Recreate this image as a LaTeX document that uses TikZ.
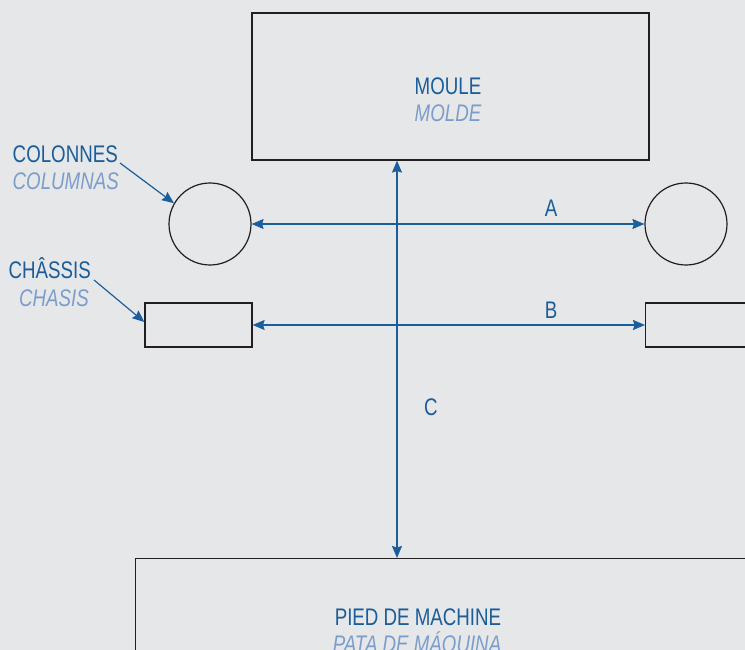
\documentclass[tikz,border=0pt]{standalone}
\usepackage{fontspec}
\setmainfont{Liberation Sans}[FakeStretch=0.78]
\usepackage{tikz}
\usetikzlibrary{arrows.meta, positioning}

\definecolor{bgray}{HTML}{E6E7E9}
\definecolor{dblue}{HTML}{1B5D98}
\definecolor{lblue}{HTML}{7C9DCA}
\definecolor{aline}{HTML}{1A5E9C}
\definecolor{kline}{HTML}{231F20}

\begin{document}
\begin{tikzpicture}[x=1pt, y=-1pt,
    part/.style={draw=kline, line width=1.2pt, inner sep=0pt},
    dim/.style={draw=aline, line width=1.2pt, {Stealth[length=12pt,width=10pt,inset=1.5pt]}-{Stealth[length=12pt,width=10pt,inset=1.5pt]}},
    lead/.style={draw=aline, line width=1.2pt, -{Stealth[length=12pt,width=10pt,inset=1.5pt]}},
    fr/.style={text=dblue, font=\fontsize{24}{27}\selectfont, inner sep=0pt},
    es/.style={text=lblue, font=\fontsize{24}{27}\selectfont\itshape, inner sep=0pt}]

          \useasboundingbox[fill=bgray] (0,0) rectangle (745,650);
          \clip (0,0) rectangle (745,650);

          % parts
          \node[part, minimum width=397, minimum height=147] (moule) at (450.5,86.5) {};
          \node[part, circle, minimum size=82] (colL) at (210,224) {};
          \node[part, circle, minimum size=82] (colR) at (686,224) {};
          \node[part, minimum width=107, minimum height=44] (chL) at (198.5,325) {};
          \node[part, minimum width=130, minimum height=44, anchor=west] (chR) at (645,325) {};
          \node[part, minimum width=640, minimum height=120, anchor=north west] (pied) at (135,558) {};

          % texts
          \node[fr, anchor=base] (moulefr) at (448,95) {MOULE};
          \node[es, anchor=base] (moulees) at (448,122) {MOLDE};
          \node[fr, anchor=base east] (colfr) at (118,163) {COLONNES};
          \node[es, anchor=base east] (coles) at (119,190) {COLUMNAS};
          \node[fr, anchor=base east] (chfr) at (91,278) {CHÂSSIS};
          \node[es, anchor=base east] (ches) at (89,306) {CHASIS};
          \node[fr, anchor=base] (piedfr) at (418,625) {PIED DE MACHINE};
          \node[es, anchor=base] (piedes) at (417,652) {PATA DE MÁQUINA};

          \node[fr, anchor=base] (la) at (551,216) {A};
          \node[fr, anchor=base] (lb) at (551,318) {B};
          \node[fr, anchor=base] (lc) at (431,415) {C};

          % dimensions
          \coordinate (cx) at (397,0);
          \draw[dim] (colL.east) -- (colR.west);
          \draw[dim] (chL.east) -- (chR.west);
          \draw[dim] (cx |- moule.south) -- (cx |- pied.north);

          % leaders
          \coordinate (colend) at (120,163);
          \coordinate (chend) at (94,280);
          \draw[lead] (colend) -- (colL.150);
          \draw[lead] (chend) -- (chL.west |- 0,322);
        \end{tikzpicture}
\end{document}
